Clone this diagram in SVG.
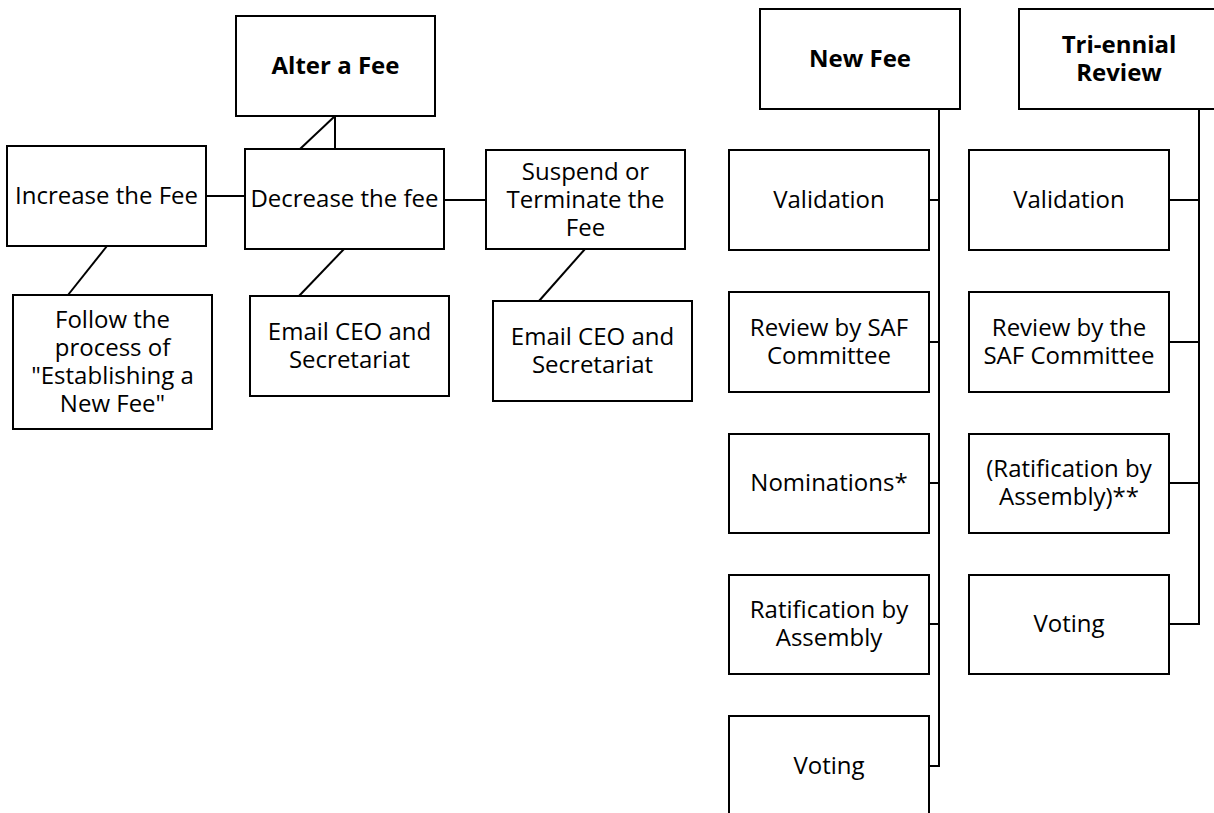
<svg xmlns="http://www.w3.org/2000/svg" width="1214" height="813" viewBox="0 0 1214 813">
<style>
rect.n{fill:#fff;stroke:#000;stroke-width:2}
text{font-family:"Open Sans","Noto Sans","Liberation Sans",sans-serif;font-size:24px;fill:#000;text-anchor:middle}
text.b{font-weight:bold}
#connectors line,#connectors path{stroke:#000;stroke-width:2;fill:none}
</style>
<rect width="1214" height="813" fill="#fff"/>
<g id="connectors">
<line x1="335" y1="116" x2="335" y2="149"/>
<line x1="335" y1="116" x2="300" y2="149"/>
<line x1="206" y1="196" x2="245" y2="196"/>
<line x1="444" y1="200" x2="486" y2="200"/>
<line x1="107" y1="246" x2="68" y2="295"/>
<line x1="344" y1="249" x2="299" y2="296"/>
<line x1="585" y1="249" x2="539" y2="301"/>
<path d="M939 109V766H929M929 200H939M929 342H939M929 483H939M929 624H939"/>
<path d="M1199 109V624H1170M1170 200H1199M1170 342H1199M1170 483H1199"/>
</g>
<g id="alter"><rect class="n" x="236" y="16" width="199" height="100"/><text class="b" x="335.5" y="74">Alter a Fee</text></g>
<g id="increase"><rect class="n" x="7" y="146" width="199" height="100"/><text x="106.5" y="204">Increase the Fee</text></g>
<g id="decrease"><rect class="n" x="245" y="149" width="199" height="100"/><text x="344.5" y="207">Decrease the fee</text></g>
<g id="suspend"><rect class="n" x="486" y="150" width="199" height="99"/><text x="585.5" y="180">Suspend or<tspan x="585.5" dy="28">Terminate the</tspan><tspan x="585.5" dy="28">Fee</tspan></text></g>
<g id="follow"><rect class="n" x="13" y="295" width="199" height="134"/><text x="112.5" y="328">Follow the<tspan x="112.5" dy="28">process of</tspan><tspan x="112.5" dy="28">"Establishing a</tspan><tspan x="112.5" dy="28">New Fee"</tspan></text></g>
<g id="email1"><rect class="n" x="250" y="296" width="199" height="100"/><text x="349.5" y="340">Email CEO and<tspan x="349.5" dy="28">Secretariat</tspan></text></g>
<g id="email2"><rect class="n" x="493" y="301" width="199" height="100"/><text x="592.5" y="345">Email CEO and<tspan x="592.5" dy="28">Secretariat</tspan></text></g>
<g id="newfee"><rect class="n" x="760" y="9" width="200" height="100"/><text class="b" x="860" y="67">New Fee</text></g>
<g id="nf-validation"><rect class="n" x="729" y="150" width="200" height="100"/><text x="829" y="208">Validation</text></g>
<g id="nf-review"><rect class="n" x="729" y="292" width="200" height="100"/><text x="829" y="336">Review by SAF<tspan x="829" dy="28">Committee</tspan></text></g>
<g id="nf-nominations"><rect class="n" x="729" y="434" width="200" height="99"/><text x="829" y="491">Nominations*</text></g>
<g id="nf-ratification"><rect class="n" x="729" y="575" width="200" height="99"/><text x="829" y="618">Ratification by<tspan x="829" dy="28">Assembly</tspan></text></g>
<g id="nf-voting"><rect class="n" x="729" y="716" width="200" height="100"/><text x="829" y="774">Voting</text></g>
<g id="triennial"><rect class="n" x="1019" y="9" width="200" height="100"/><text class="b" x="1119" y="53">Tri-ennial<tspan x="1119" dy="28">Review</tspan></text></g>
<g id="tr-validation"><rect class="n" x="969" y="150" width="200" height="100"/><text x="1069" y="208">Validation</text></g>
<g id="tr-review"><rect class="n" x="969" y="292" width="200" height="100"/><text x="1069" y="336">Review by the<tspan x="1069" dy="28">SAF Committee</tspan></text></g>
<g id="tr-ratification"><rect class="n" x="969" y="434" width="200" height="99"/><text x="1069" y="477">(Ratification by<tspan x="1069" dy="28">Assembly)**</tspan></text></g>
<g id="tr-voting"><rect class="n" x="969" y="575" width="200" height="99"/><text x="1069" y="632">Voting</text></g>
</svg>
